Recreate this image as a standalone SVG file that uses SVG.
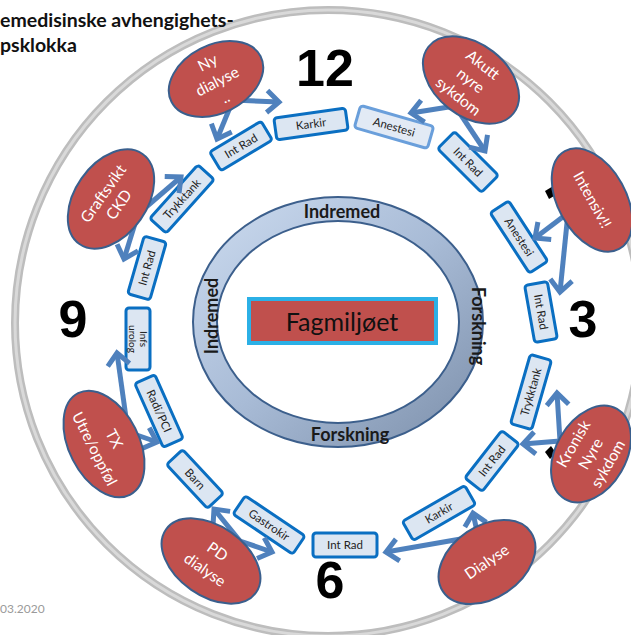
<svg xmlns="http://www.w3.org/2000/svg" width="631" height="635" viewBox="0 0 631 635">
<defs>
<style>
.box rect{fill:#dce6f2;stroke:#0a6fc2;stroke-width:3}
.box text{font-family:Lato,"Liberation Sans",sans-serif;font-size:11.5px;fill:#222;text-anchor:middle}
.ell ellipse{fill:#c0504d;stroke:#3a5f8d;stroke-width:2}
.ell text{font-family:Lato,"Liberation Sans",sans-serif;font-size:15.5px;fill:#fff;text-anchor:middle}
.num{font-family:"Liberation Sans",Arial,sans-serif;font-weight:bold;font-size:52px;fill:#000;text-anchor:middle}
.ring{font-family:Lato,"Liberation Sans",sans-serif;font-weight:bold;font-size:18px;fill:#1a1a1a;text-anchor:middle}
.arr{fill:none;stroke:#4f81bd;stroke-width:5;marker-end:url(#ah)}
</style>
<marker id="ah" viewBox="-20 -16 26 32" refX="0" refY="0" markerWidth="26" markerHeight="32" markerUnits="userSpaceOnUse" orient="auto">
<path d="M-12,-11 L0,0 L-12,11" fill="none" stroke="#4f81bd" stroke-width="5"/>
</marker>
<linearGradient id="rg" x1="0" y1="0" x2="1" y2="1">
<stop offset="0" stop-color="#cddcf0"/>
<stop offset="0.5" stop-color="#a8bbd6"/>
<stop offset="1" stop-color="#7b8ea9"/>
</linearGradient>
</defs>
<rect width="631" height="635" fill="#fff"/>
<g id="outer-ring">
<circle cx="328" cy="323" r="313" fill="none" stroke="#bdbdbd" stroke-width="8"/>
<circle cx="328" cy="323" r="313" fill="none" stroke="#d9d9d9" stroke-width="3"/>
</g>
<g id="title" font-family="Lato,'Liberation Sans',sans-serif" font-weight="bold" font-size="19.5" fill="#111">
<text x="0" y="27">emedisinske avhengighets-</text>
<text x="0" y="52">psklokka</text>
</g>
<text x="0" y="613" font-family="Lato,'Liberation Sans',sans-serif" font-size="12" fill="#9a9a9a">03.2020</text>
<g id="clock-numbers">
<text class="num" x="325" y="86">12</text>
<text class="num" x="583" y="337">3</text>
<text class="num" x="330" y="598">6</text>
<text class="num" x="73" y="337">9</text>
<polygon points="545,191 555,185 559,193 549,199" fill="#000"/>
<polygon points="545,452 551,446 556,453 550,459" fill="#000"/>
</g>
<g id="inner-ring">
<path d="M193,322 a145,125 0 1,0 290,0 a145,125 0 1,0 -290,0 Z M217,322 a121,101 0 1,0 242,0 a121,101 0 1,0 -242,0 Z" fill="url(#rg)" fill-rule="evenodd" stroke="#3c5f8c" stroke-width="2"/>
<text class="ring" x="342" y="218">Indremed</text>
<text class="ring" x="350" y="441">Forskning</text>
<text class="ring" transform="translate(218,316) rotate(-90)">Indremed</text>
<text class="ring" transform="translate(472,326) rotate(90)">Forskning</text>
</g>
<g id="fagmiljoet">
<rect x="249" y="299" width="187" height="44" fill="#c0504d" stroke="#2bb0e6" stroke-width="4"/>
<text x="342" y="331" font-family="Lato,'Liberation Sans',sans-serif" font-size="25" fill="#111" text-anchor="middle">Fagmiljøet</text>
</g>
<g id="box-karkir-top" class="box" transform="translate(311,124) rotate(-8)"><rect x="-36" y="-11" width="72" height="22" rx="3"/><text y="4">Karkir</text></g>
<g id="box-anestesi-top" class="box" transform="translate(394,127) rotate(16)"><rect x="-38" y="-11.5" width="76" height="23" rx="3" style="stroke:#6a9fdb;fill:#e2eaf5"/><text y="4">Anestesi</text></g>
<g id="box-intrad-tl" class="box" transform="translate(241,146) rotate(-31)"><rect x="-30" y="-11" width="60" height="22" rx="3"/><text y="4">Int Rad</text></g>
<g id="box-trykktank-tl" class="box" transform="translate(182,199) rotate(-48)"><rect x="-36" y="-11" width="72" height="22" rx="3"/><text y="4">Trykktank</text></g>
<g id="box-intrad-l" class="box" transform="translate(147,268) rotate(-74)"><rect x="-30" y="-11.5" width="60" height="23" rx="3"/><text y="4">Int Rad</text></g>
<g id="box-infs-urolog" class="box" transform="translate(138,339) rotate(90)"><rect x="-31" y="-12" width="62" height="24" rx="3"/><text y="-2" style="font-size:10px">Infs</text><text y="9" style="font-size:10px">urolog</text></g>
<g id="box-radi-pci" class="box" transform="translate(159,411) rotate(66)"><rect x="-35" y="-11" width="70" height="22" rx="3"/><text y="4">Radi/PCI</text></g>
<g id="box-barn" class="box" transform="translate(195,479) rotate(47)"><rect x="-30" y="-11" width="60" height="22" rx="3"/><text y="4">Barn</text></g>
<g id="box-gastrokir" class="box" transform="translate(269,525) rotate(34)"><rect x="-36" y="-11" width="72" height="22" rx="3"/><text y="4">Gastrokir</text></g>
<g id="box-intrad-bottom" class="box" transform="translate(345,545)"><rect x="-32" y="-12" width="64" height="24" rx="3"/><text y="4">Int Rad</text></g>
<g id="box-karkir-br" class="box" transform="translate(439,513) rotate(-30)"><rect x="-36" y="-11" width="72" height="22" rx="3"/><text y="4">Karkir</text></g>
<g id="box-intrad-lr" class="box" transform="translate(492,461) rotate(-52)"><rect x="-30" y="-11" width="60" height="22" rx="3"/><text y="4">Int Rad</text></g>
<g id="box-trykktank-r" class="box" transform="translate(531,392) rotate(-74)"><rect x="-36" y="-11" width="72" height="22" rx="3"/><text y="4">Trykktank</text></g>
<g id="box-intrad-r" class="box" transform="translate(541,312) rotate(80)"><rect x="-29" y="-11.5" width="58" height="23" rx="3"/><text y="4">Int Rad</text></g>
<g id="box-anestesi-r" class="box" transform="translate(519,237) rotate(57)"><rect x="-36" y="-11" width="72" height="22" rx="3"/><text y="4">Anestesi</text></g>
<g id="box-intrad-tr" class="box" transform="translate(468,162) rotate(45)"><rect x="-31" y="-12" width="62" height="24" rx="3"/><text y="4">Int Rad</text></g>
<g id="connectors">
<path class="arr" d="M233,100 L279,102"/>
<path class="arr" d="M233,100 L217,139"/>
<path class="arr" d="M455,106 L411,113"/>
<path class="arr" d="M455,106 L485,151"/>
<path class="arr" d="M568,213 L535,238"/>
<path class="arr" d="M568,213 L560,292"/>
<path class="arr" d="M560,441 L557,393"/>
<path class="arr" d="M560,441 L523,444"/>
<path class="arr" d="M478,536 L473,513"/>
<path class="arr" d="M478,536 L386,552"/>
<path class="arr" d="M240,541 L214,509"/>
<path class="arr" d="M240,541 L272,552"/>
<path class="arr" d="M128,432 L117,353"/>
<path class="arr" d="M128,432 L157,442"/>
<path class="arr" d="M138,214 L181,177"/>
<path class="arr" d="M138,214 L124,259"/>
</g>
<g id="ny-dialyse" class="ell" transform="translate(216,79) rotate(-27)"><ellipse rx="50" ry="34"/><text y="-13">Ny</text><text y="8">dialyse</text><text y="26">..</text></g>
<g id="akutt-nyre-sykdom" class="ell" transform="translate(471,80) rotate(38)"><ellipse rx="54" ry="36"/><text y="-14">Akutt</text><text y="6">nyre</text><text y="26">sykdom</text></g>
<g id="intensiv" class="ell" transform="translate(592,200) rotate(61)"><ellipse rx="56" ry="34"/><text y="5">Intensiv!!</text></g>
<g id="kronisk-nyre-sykdom" class="ell" transform="translate(591,454) rotate(-60)"><ellipse rx="52" ry="35"/><text y="-15">Kronisk</text><text y="5">Nyre</text><text y="25">sykdom</text></g>
<g id="dialyse" class="ell" transform="translate(487,562) rotate(-34)"><ellipse rx="53" ry="36"/><text y="5">Dialyse</text></g>
<g id="pd-dialyse" class="ell" transform="translate(211,561) rotate(35)"><ellipse rx="55" ry="35"/><text y="-6">PD</text><text y="16">dialyse</text></g>
<g id="tx-utre-oppfol" class="ell" transform="translate(104,444) rotate(63)"><ellipse rx="57" ry="35"/><text y="-6">TX</text><text y="16">Utre/oppføl</text></g>
<g id="graftsvikt-ckd" class="ell" transform="translate(111,199) rotate(-55)"><ellipse rx="55" ry="36"/><text y="-4">Graftsvikt</text><text y="15">CKD</text></g>
</svg>
